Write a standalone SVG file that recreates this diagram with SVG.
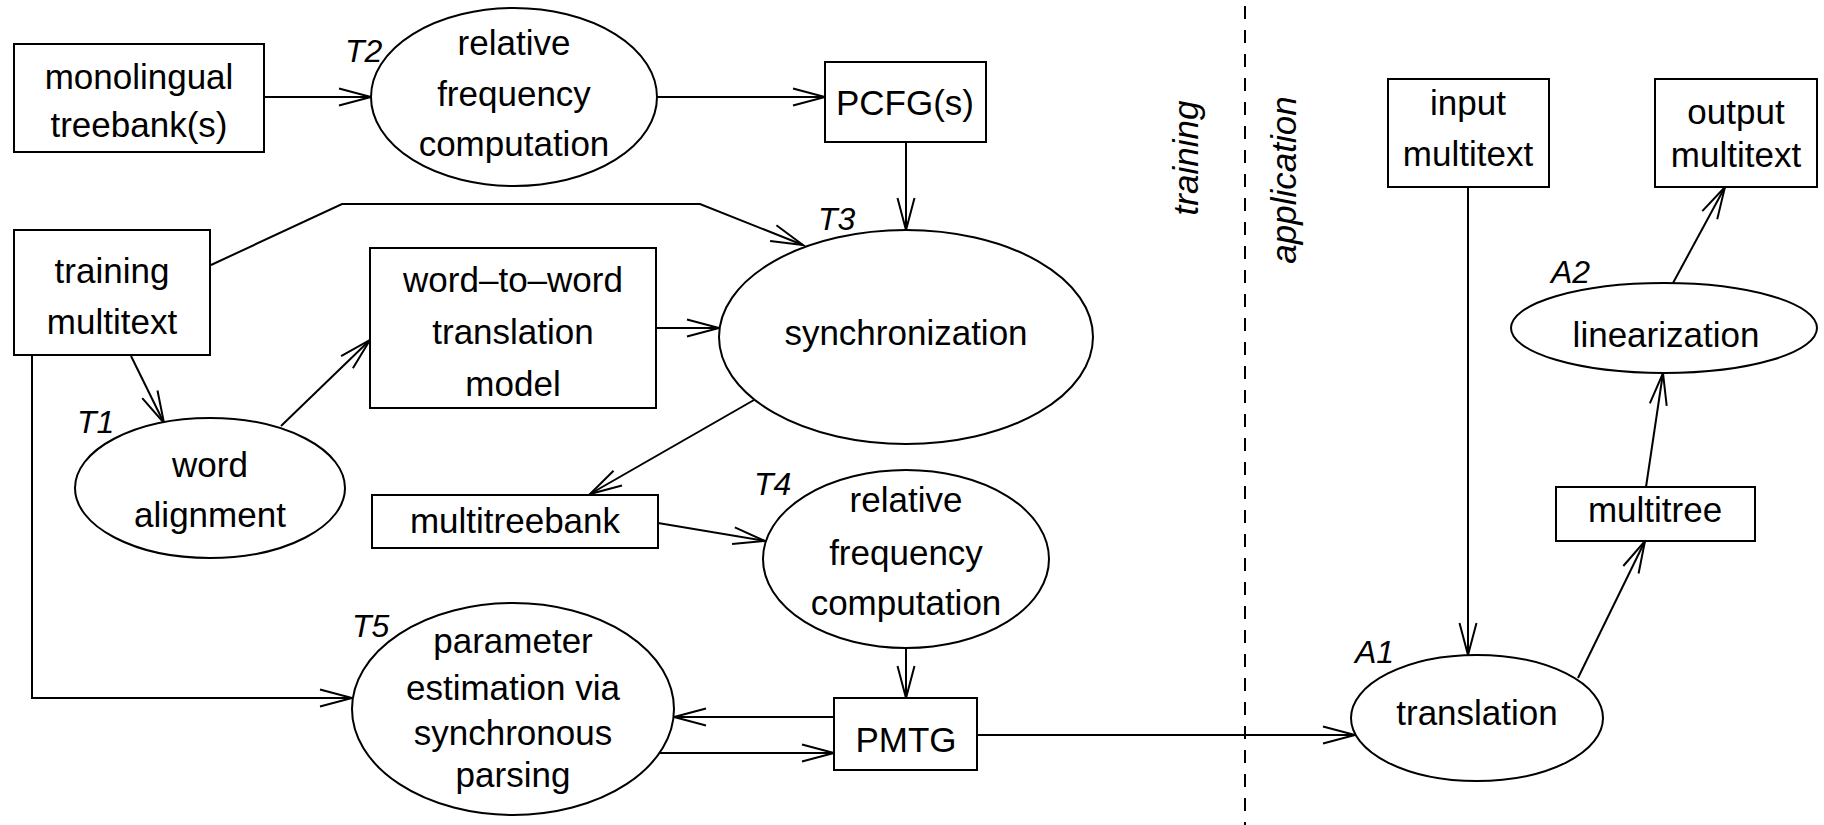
<svg xmlns="http://www.w3.org/2000/svg" width="1824" height="825" viewBox="0 0 1824 825">
  <style>
    .box { fill: #fff; stroke: #000; stroke-width: 2; }
    .ell { fill: #fff; stroke: #000; stroke-width: 2; }
    .txt { font-family: "Liberation Sans", Arial, sans-serif; font-size: 35px; text-anchor: middle; fill: #000; }
    .lbl { font-family: "Liberation Sans", Arial, sans-serif; font-size: 32px; font-style: italic; fill: #000; }
    .side { font-family: "Liberation Sans", Arial, sans-serif; font-size: 35px; font-style: italic; text-anchor: middle; fill: #000; }
    .edge { fill: none; stroke: #000; stroke-width: 2; marker-end: url(#arr); }
    .plain { fill: none; stroke: #000; stroke-width: 2; }
  </style>
  <defs>
    <marker id="arr" markerUnits="userSpaceOnUse" markerWidth="44" markerHeight="28" viewBox="-38 -14 44 28" refX="0" refY="0" orient="auto" overflow="visible">
      <path d="M-32,-8.5 L0,0 L-32,8.5" fill="none" stroke="#000" stroke-width="2"/>
    </marker>
  </defs>
  <rect width="1824" height="825" fill="#fff"/>

  <!-- training / application divider -->
  <g id="divider">
    <line x1="1245" y1="6" x2="1245" y2="825" stroke="#000" stroke-width="2" stroke-dasharray="13 11"/>
    <text class="side" transform="translate(1198,158) rotate(-90)">training</text>
    <text class="side" transform="translate(1296,180) rotate(-90)">application</text>
  </g>

  <!-- connectors -->
  <g id="connectors">
    <path class="edge" d="M264,97 L371,97"/>
    <path class="edge" d="M657,97 L825,97"/>
    <path class="edge" d="M906,142 L906,230"/>
    <path class="edge" d="M211,265 L342,204 L700,204 L803,245"/>
    <path class="edge" d="M131,356 L164,423"/>
    <path class="edge" d="M281,426 L370,340"/>
    <path class="edge" d="M656,328 L719,328"/>
    <path class="edge" d="M754,400 L590,494"/>
    <path class="edge" d="M658,523 L765,541"/>
    <path class="edge" d="M906,647 L906,698"/>
    <path class="edge" d="M834,717 L674,717"/>
    <path class="edge" d="M659,753 L834,753"/>
    <path class="edge" d="M32,355 L32,698 L352,698"/>
    <path class="edge" d="M977,735 L1355,735"/>
    <path class="edge" d="M1468,187 L1468,655"/>
    <path class="edge" d="M1578,678 L1645,541"/>
    <path class="edge" d="M1646,487 L1663,373"/>
    <path class="edge" d="M1673,283 L1725,187"/>
  </g>

  <g id="monolingual-treebanks">
    <rect class="box" x="14" y="44" width="250" height="108"/>
    <text class="txt" x="139" y="89">monolingual</text>
    <text class="txt" x="139" y="137">treebank(s)</text>
  </g>

  <g id="t2-relative-frequency">
    <ellipse class="ell" cx="514" cy="97" rx="143" ry="89"/>
    <text class="txt" x="514" y="55">relative</text>
    <text class="txt" x="514" y="106">frequency</text>
    <text class="txt" x="514" y="156">computation</text>
    <text class="lbl" x="345" y="62">T2</text>
  </g>

  <g id="pcfgs">
    <rect class="box" x="825" y="62" width="161" height="80"/>
    <text class="txt" x="905" y="115">PCFG(s)</text>
  </g>

  <g id="training-multitext">
    <rect class="box" x="14" y="230" width="196" height="125"/>
    <text class="txt" x="112" y="283">training</text>
    <text class="txt" x="112" y="334">multitext</text>
  </g>

  <g id="word-to-word-model">
    <rect class="box" x="370" y="248" width="286" height="160"/>
    <text class="txt" x="513" y="292">word–to–word</text>
    <text class="txt" x="513" y="344">translation</text>
    <text class="txt" x="513" y="396">model</text>
  </g>

  <g id="t3-synchronization">
    <ellipse class="ell" cx="906" cy="337" rx="187" ry="107"/>
    <text class="txt" x="906" y="345">synchronization</text>
    <text class="lbl" x="818" y="230">T3</text>
  </g>

  <g id="t1-word-alignment">
    <ellipse class="ell" cx="210" cy="488" rx="135" ry="70"/>
    <text class="txt" x="210" y="477">word</text>
    <text class="txt" x="210" y="527">alignment</text>
    <text class="lbl" x="77" y="433">T1</text>
  </g>

  <g id="multitreebank">
    <rect class="box" x="372" y="495" width="286" height="53"/>
    <text class="txt" x="515" y="533">multitreebank</text>
  </g>

  <g id="t4-relative-frequency">
    <ellipse class="ell" cx="906" cy="559" rx="143" ry="89"/>
    <text class="txt" x="906" y="512">relative</text>
    <text class="txt" x="906" y="565">frequency</text>
    <text class="txt" x="906" y="615">computation</text>
    <text class="lbl" x="754" y="495">T4</text>
  </g>

  <g id="t5-parameter-estimation">
    <ellipse class="ell" cx="513" cy="709" rx="161" ry="106"/>
    <text class="txt" x="513" y="653">parameter</text>
    <text class="txt" x="513" y="700">estimation via</text>
    <text class="txt" x="513" y="745">synchronous</text>
    <text class="txt" x="513" y="787">parsing</text>
    <text class="lbl" x="352" y="637">T5</text>
  </g>

  <g id="pmtg">
    <rect class="box" x="834" y="698" width="143" height="72"/>
    <text class="txt" x="906" y="752">PMTG</text>
  </g>

  <g id="input-multitext">
    <rect class="box" x="1388" y="79" width="161" height="108"/>
    <text class="txt" x="1468" y="115">input</text>
    <text class="txt" x="1468" y="166">multitext</text>
  </g>

  <g id="output-multitext">
    <rect class="box" x="1655" y="79" width="162" height="108"/>
    <text class="txt" x="1736" y="124">output</text>
    <text class="txt" x="1736" y="167">multitext</text>
  </g>

  <g id="a2-linearization">
    <ellipse class="ell" cx="1664" cy="328" rx="153" ry="45"/>
    <text class="txt" x="1666" y="347">linearization</text>
    <text class="lbl" x="1551" y="283">A2</text>
  </g>

  <g id="multitree">
    <rect class="box" x="1556" y="487" width="199" height="54"/>
    <text class="txt" x="1655" y="522">multitree</text>
  </g>

  <g id="a1-translation">
    <ellipse class="ell" cx="1477" cy="718" rx="126" ry="63"/>
    <text class="txt" x="1477" y="725">translation</text>
    <text class="lbl" x="1355" y="663">A1</text>
  </g>
</svg>
